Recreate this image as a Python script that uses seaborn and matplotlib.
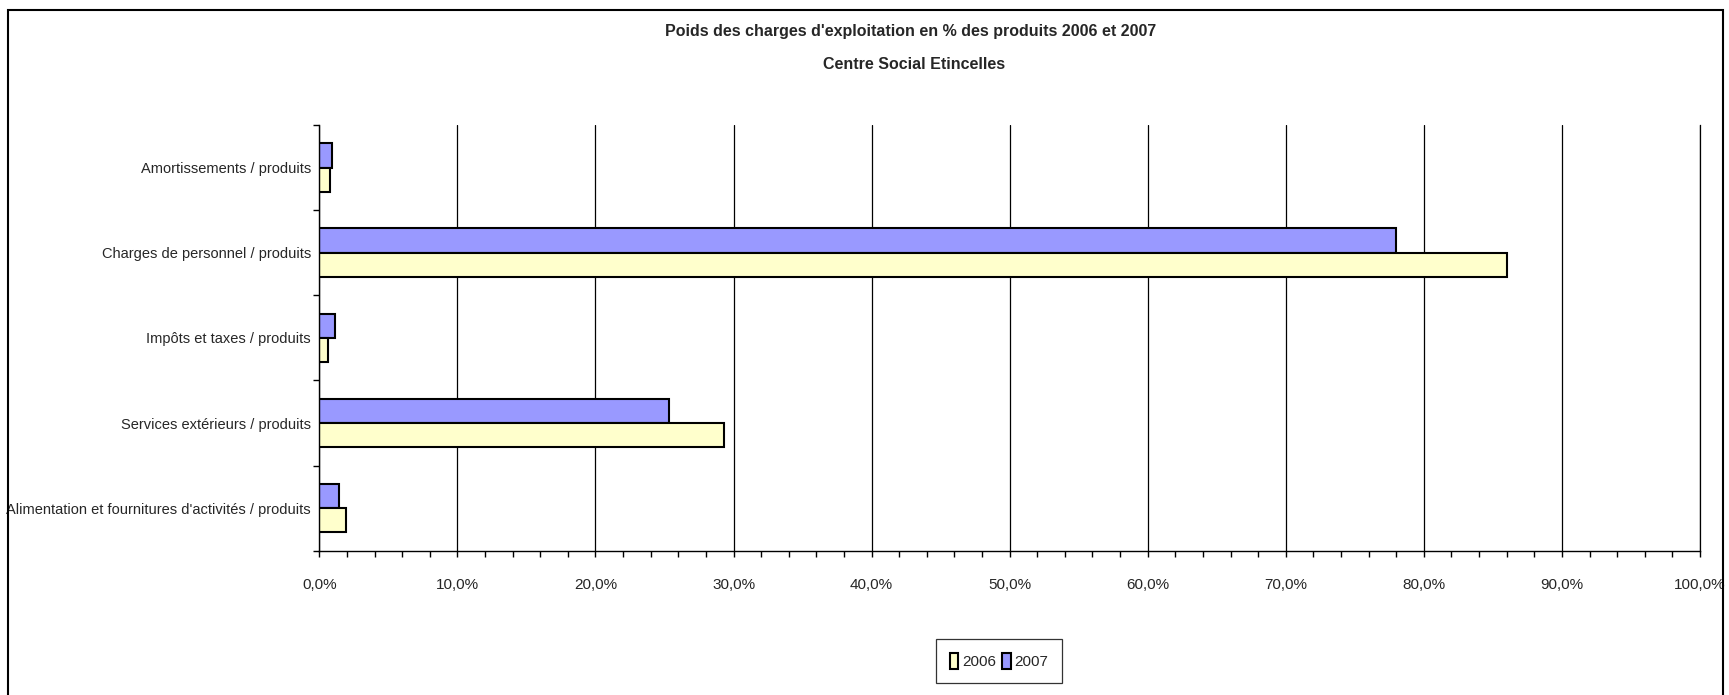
import numpy as np
import pandas as pd
import matplotlib
matplotlib.use("Agg")
import matplotlib.pyplot as plt
import seaborn as sns
from matplotlib.patches import Rectangle
from matplotlib.ticker import MultipleLocator, FuncFormatter


# ==============================
# Data (values in % of products)
# ==============================

categories = [
    "Amortissements / produits",
    "Charges de personnel / produits",
    "Impôts et taxes / produits",
    "Services extérieurs / produits",
    "Alimentation et fournitures d'activités / produits",
]
values_2006 = [0.78, 86.0, 0.6, 29.3, 1.95]
values_2007 = [0.95, 78.0, 1.15, 25.3, 1.4]
years = ["2006", "2007"]
colors = {"2006": "#FFFFCC", "2007": "#9999FF"}

title_line1 = "Poids des charges d'exploitation en % des produits 2006 et 2007"
title_line2 = "Centre Social Etincelles"

df = pd.DataFrame({
    "categorie": categories * 2,
    "valeur": values_2006 + values_2007,
    "annee": ["2006"] * len(categories) + ["2007"] * len(categories),
})


# ==============================
# Style
# ==============================

sns.set_style("white")
plt.rcParams["font.family"] = ["Liberation Sans", "DejaVu Sans"]

fig = plt.figure(figsize=(17.29, 6.95), dpi=100)
ax = fig.add_axes([0.1847, 0.2076, 0.7985, 0.6125])

sns.barplot(
    data=df,
    x="valeur",
    y="categorie",
    hue="annee",
    hue_order=["2007", "2006"],
    palette=colors,
    saturation=1,
    orient="h",
    width=0.57,
    edgecolor="black",
    linewidth=1.5,
    ax=ax,
)

# axes
ax.set_xlim(0, 100)
ax.set_ylim(4.5, -0.5)
ax.set_xlabel("")
ax.set_ylabel("")

ax.xaxis.set_major_locator(MultipleLocator(10))
ax.xaxis.set_minor_locator(MultipleLocator(2))
ax.xaxis.set_major_formatter(FuncFormatter(lambda v, p: f"{v:.1f}%".replace(".", ",")))
ax.tick_params(axis="x", which="both", direction="out", length=4, width=1,
               color="black", bottom=True, labelsize=11, pad=16)

ax.set_yticks(np.arange(-0.5, 5, 1), minor=True)
ax.tick_params(axis="y", which="minor", direction="out", length=4, width=1,
               color="black", left=True)
ax.tick_params(axis="y", which="major", length=0, labelsize=10.5, pad=6)

ax.grid(axis="x", color="black", linewidth=0.9)
ax.grid(axis="y", visible=False)
ax.set_axisbelow(True)

sns.despine(ax=ax, top=True, right=False)
for side in ["left", "bottom"]:
    ax.spines[side].set_color("black")
    ax.spines[side].set_linewidth(1.0)
ax.spines["right"].set_color("black")
ax.spines["right"].set_linewidth(0.9)

# legend (2006 first)
handles, labels = ax.get_legend_handles_labels()
ax.get_legend().remove()
order = [labels.index(y) for y in years]
leg = fig.legend(
    [handles[i] for i in order],
    [labels[i] for i in order],
    loc="center",
    bbox_to_anchor=(999 / 1729, 1 - 661 / 695),
    ncol=2,
    fontsize=11,
    frameon=True,
    fancybox=False,
    edgecolor="black",
    handlelength=0.55,
    handleheight=1.3,
    handletextpad=0.25,
    columnspacing=0.4,
    borderpad=0.9,
    borderaxespad=0,
)
leg.get_frame().set_linewidth(0.9)

# titles
fig.text(911 / 1729, 1 - 31.7 / 695, title_line1, ha="center", va="center",
         fontsize=11.5, fontweight="bold")
fig.text(914 / 1729, 1 - 64.3 / 695, title_line2, ha="center", va="center",
         fontsize=11.5, fontweight="bold")

# chart border
fig.patches.append(Rectangle((8 / 1729, -0.02), (1723 - 8) / 1729, 1.02 - 10 / 695,
                             transform=fig.transFigure, fill=False,
                             edgecolor="black", linewidth=1.5))

plt.savefig("out.png", dpi=100)
plt.close()
